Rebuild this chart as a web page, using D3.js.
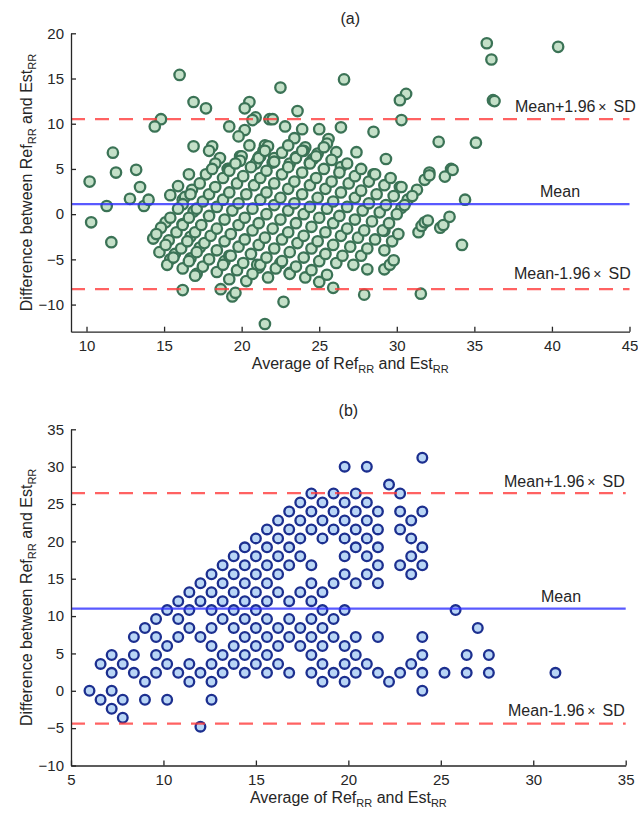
<!DOCTYPE html>
<html>
<head>
<meta charset="utf-8">
<script src="https://cdn.jsdelivr.net/npm/d3@7"></script>
<style>
body { margin: 0; background: #fff; }
text { font-family: "Liberation Sans", Arial, sans-serif; fill: #262626; }
</style>
</head>
<body>
<script>
// panel (a): [average, difference], outer / isolated points
var ptsA = [
  [16.0,15.4],[16.9,12.4],[17.7,11.7],[14.8,10.5],[14.4,9.7],
  [20.5,12.4],[20.2,11.7],[20.9,10.7],[20.7,10.4],[21.8,10.5],[19.2,9.7],[20.2,9.3],[19.8,8.6],
  [11.7,6.8],[16.9,7.5],[18.1,7.5],[17.9,7.0],[20.5,7.6],[19.9,6.4],[18.6,6.2],[18.3,5.6],[19.1,5.0],
  [21.5,7.6],[21.2,6.4],[21.0,5.9],[20.9,5.6],[11.9,4.6],[13.2,4.9],[19.2,5.0],
  [26.6,14.9],[22.5,14.0],[30.6,13.3],[30.2,12.6],[23.6,11.4],[22.0,10.5],[30.3,10.4],[22.8,9.7],
  [23.9,9.4],[23.4,8.4],[25.0,9.4],[26.4,9.6],[28.5,9.1],
  [24.1,7.4],[24.0,7.0],[25.6,8.3],[25.5,7.8],[26.1,6.85],[27.4,6.85],[29.3,6.1],
  [21.7,7.5],[21.4,7.0],[21.1,6.3],[22.1,6.2],[22.0,5.7],[23.5,6.3],[23.1,5.6],[24.9,6.7],
  [24.6,6.1],[24.4,5.7],[26.4,5.2],[20.0,6.4],[19.9,5.9],
  [35.8,18.9],[36.1,17.1],[40.4,18.5],[36.2,12.6],[36.3,12.5],[32.7,8.0],[35.1,7.9],[33.5,5.0],[32.1,4.6],
  [30.2,3.0],[31.3,2.7],[30.7,1.6],[30.3,0.7],[31.8,3.8],[32.1,4.3],[33.1,4.15],[33.6,4.9],[34.4,1.6],
  [31.4,-2.0],[31.6,-1.3],[31.8,-0.9],[32.0,-0.7],[32.8,-1.5],[33.0,-1.2],[33.4,-0.3],[34.2,-3.4],[31.55,-8.8],
  [10.2,3.6],[10.3,-0.9],[11.3,0.9],[11.6,-3.1],[13.45,3.0],[12.8,1.7],[13.7,0.9],[14.0,1.6],
  [15.1,-0.9],[14.8,-1.5],[14.3,-2.7],[15.3,-2.9],[15.7,-4.4],[15.4,-5.0],
  [15.4,2.1],[15.9,3.1],[16.2,1.6],[16.35,1.9],[16.2,1.1],[16.6,4.4],[16.2,-1.1],[16.2,-8.4],
  [17.1,-6.6],[16.7,-4.9],[16.8,2.7],[16.9,0.3],[16.7,-2.5],[17.3,-3.7],[17.7,4.4],
  [18.65,-8.3],[19.4,-9.1],[19.6,-8.7],[20.3,-7.4],[21.1,-5.9],[21.0,-5.6],[21.5,-12.15],[18.9,-5.2],[19.2,-4.6],
  [22.7,-9.7],[25.9,-8.15],[27.9,-8.9],[25.0,-7.5],[24.1,-7.0],[23.1,-6.5],[22.5,-5.4],[25.5,-6.7],
  [28.1,-6.1],[29.2,-6.1],[29.55,-5.6],[29.8,-5.1],[28.5,4.4],[29.2,-1.85]
];
// panel (a): the packed diagonal chains in the middle
var chainsA = [
  [14.5,-2.2],[15.4,-0.4],[15.9,0.6],[16.7,2.2],[17.3,3.4],[18.1,5.0],
  [14.7,-4.2],[15.1,-3.4],[15.8,-2.0],[16.2,-1.2],[16.6,-0.4],[17.1,0.6],[17.5,1.4],[17.9,2.2],[18.3,3.0],[18.8,4.0],[19.2,4.8],[19.6,5.6],
  [15.2,-5.6],[15.6,-4.8],[16.1,-3.8],[16.5,-3.0],[17.0,-2.0],[17.4,-1.2],[17.9,-0.2],[18.4,0.8],[18.8,1.6],[19.2,2.4],[19.7,3.4],[20.1,4.2],[20.6,5.2],[21.1,6.2],[21.5,7.0],
  [16.2,-6.0],[16.6,-5.2],[17.1,-4.2],[17.6,-3.2],[18.0,-2.4],[18.4,-1.6],[18.9,-0.6],[19.4,0.4],[19.8,1.2],[20.3,2.2],[20.8,3.2],[21.2,4.0],[21.6,4.8],[22.1,5.8],[22.6,6.8],[23.0,7.6],
  [17.0,-6.8],[17.5,-5.8],[17.9,-5.0],[18.4,-4.0],[18.9,-3.0],[19.3,-2.2],[19.8,-1.2],[20.2,-0.4],[20.7,0.6],[21.2,1.6],[21.6,2.4],[22.1,3.4],[22.6,4.4],[23.0,5.2],[23.5,6.2],[23.9,7.0],
  [18.4,-6.4],[18.8,-5.6],[19.3,-4.6],[19.8,-3.6],[20.2,-2.8],[20.7,-1.8],[21.1,-1.0],[21.6,0],[22.1,1.0],[22.5,1.8],[23.0,2.8],[23.4,3.6],[23.9,4.6],[24.4,5.6],[24.8,6.4],[25.3,7.4],
  [19.2,-7.2],[19.7,-6.2],[20.1,-5.4],[20.6,-4.4],[21.1,-3.4],[21.5,-2.6],[22.0,-1.6],[22.5,-0.6],[23.0,0.4],[23.4,1.2],[23.9,2.2],[24.4,3.2],[24.8,4.0],[25.3,5.0],[25.8,6.0],
  [20.7,-6.6],[21.2,-5.6],[21.6,-4.8],[22.1,-3.8],[22.6,-2.8],[23.0,-2.0],[23.5,-1.0],[24.0,0],[24.4,0.8],[24.9,1.8],[25.4,2.8],[25.8,3.6],[26.3,4.6],[26.8,5.6],
  [21.7,-7.0],[22.2,-6.0],[22.6,-5.2],[23.1,-4.2],[23.6,-3.2],[24.0,-2.4],[24.5,-1.4],[25.0,-0.4],[25.5,0.6],[25.9,1.4],[26.4,2.4],[26.9,3.4],[27.3,4.2],[27.7,5.0],
  [23.1,-6.6],[23.5,-5.8],[24.0,-4.8],[24.5,-3.8],[24.9,-3.0],[25.4,-2.0],[25.9,-1.0],[26.3,-0.2],[26.8,0.8],[27.3,1.8],[27.7,2.6],[28.2,3.6],[28.6,4.4],
  [24.5,-6.2],[25.0,-5.2],[25.4,-4.4],[25.9,-3.4],[26.4,-2.4],[26.8,-1.6],[27.3,-0.6],[27.8,0.4],[28.2,1.2],[28.7,2.2],[29.2,3.2],[29.6,4.0],
  [26.1,-5.4],[26.5,-4.6],[27.0,-3.6],[27.5,-2.6],[27.9,-1.8],[28.4,-0.8],[28.9,0.2],[29.3,1.0],[29.8,2.0],[30.3,3.0],
  [27.2,-5.6],[27.7,-4.6],[28.1,-3.8],[28.6,-2.8],[29.1,-1.8],[29.5,-1.0],[30.0,0],[30.5,1.0],[31.0,2.0],
  [29.2,-4.0],[29.7,-3.0],[30.1,-2.2]
];
var linesA = { mean: 1.1, upper: 10.5, lower: -8.3 };
var xTicksA = [10, 15, 20, 25, 30, 35, 40, 45];
var yTicksA = [-10, -5, 0, 5, 10, 15, 20];

// panel (b): [average, difference]
var ptsB = [
  [6.0,0],
  [6.6,-1.2],[6.6,3.6],
  [7.2,-2.4],[7.2,0],[7.2,2.4],[7.2,4.8],
  [7.8,-3.6],[7.8,-1.2],[7.8,3.6],
  [8.4,2.4],[8.4,4.8],[8.4,7.2],
  [9.0,-1.2],[9.0,1.2],[9.0,8.4],
  [9.6,2.4],[9.6,4.8],[9.6,7.2],[9.6,9.6],
  [10.2,-1.2],[10.2,3.6],[10.2,6.0],[10.2,10.8],
  [10.8,2.4],[10.8,7.2],[10.8,9.6],[10.8,12.0],
  [11.4,1.2],[11.4,3.6],[11.4,8.4],[11.4,10.8],[11.4,13.2],
  [12.0,-4.8],[12.0,2.4],[12.0,7.2],[12.0,12.0],[12.0,14.4],
  [12.6,-1.2],[12.6,1.2],[12.6,3.6],[12.6,6.0],[12.6,8.4],[12.6,10.8],[12.6,13.2],[12.6,15.6],
  [13.2,2.4],[13.2,4.8],[13.2,9.6],[13.2,12.0],[13.2,14.4],[13.2,16.8],
  [13.8,3.6],[13.8,6.0],[13.8,8.4],[13.8,10.8],[13.8,13.2],[13.8,15.6],[13.8,18.0],
  [14.4,2.4],[14.4,4.8],[14.4,7.2],[14.4,9.6],[14.4,12.0],[14.4,14.4],[14.4,16.8],[14.4,19.2],
  [15.0,3.6],[15.0,6.0],[15.0,8.4],[15.0,10.8],[15.0,13.2],[15.0,15.6],[15.0,18.0],[15.0,20.4],
  [15.6,2.4],[15.6,4.8],[15.6,7.2],[15.6,9.6],[15.6,12.0],[15.6,14.4],[15.6,16.8],[15.6,19.2],[15.6,21.6],
  [16.2,3.6],[16.2,6.0],[16.2,8.4],[16.2,13.2],[16.2,15.6],[16.2,18.0],[16.2,20.4],[16.2,22.8],
  [16.8,2.4],[16.8,7.2],[16.8,9.6],[16.8,12.0],[16.8,16.8],[16.8,19.2],[16.8,21.6],[16.8,24.0],
  [17.4,6.0],[17.4,8.4],[17.4,13.2],[17.4,18.0],[17.4,20.4],[17.4,22.8],[17.4,25.2],
  [18.0,2.4],[18.0,4.8],[18.0,7.2],[18.0,9.6],[18.0,12.0],[18.0,14.4],[18.0,16.8],[18.0,21.6],[18.0,24.0],[18.0,26.4],
  [18.6,1.2],[18.6,3.6],[18.6,6.0],[18.6,8.4],[18.6,10.8],[18.6,13.2],[18.6,20.4],[18.6,22.8],[18.6,25.2],
  [19.2,2.4],[19.2,7.2],[19.2,9.6],[19.2,14.4],[19.2,21.6],[19.2,24.0],[19.2,26.4],
  [19.8,1.2],[19.8,3.6],[19.8,6.0],[19.8,10.8],[19.8,15.6],[19.8,18.0],[19.8,20.4],[19.8,22.8],[19.8,25.2],[19.8,30.0],
  [20.4,2.4],[20.4,4.8],[20.4,7.2],[20.4,14.4],[20.4,19.2],[20.4,21.6],[20.4,24.0],[20.4,26.4],
  [21.0,3.6],[21.0,15.6],[21.0,18.0],[21.0,20.4],[21.0,22.8],[21.0,25.2],[21.0,30.0],
  [21.6,2.4],[21.6,7.2],[21.6,14.4],[21.6,16.8],[21.6,19.2],[21.6,21.6],[21.6,24.0],
  [22.2,1.2],[22.2,27.6],
  [22.8,2.4],[22.8,16.8],[22.8,21.6],[22.8,24.0],[22.8,26.4],
  [23.4,3.6],[23.4,15.6],[23.4,18.0],[23.4,20.4],[23.4,22.8],
  [24.0,0],[24.0,2.4],[24.0,4.8],[24.0,7.2],[24.0,16.8],[24.0,19.2],[24.0,24.0],[24.0,31.2],
  [25.2,2.4],[25.8,10.8],[26.4,2.4],[26.4,4.8],[27.0,8.4],[27.6,2.4],[27.6,4.8],[31.2,2.4]
];
var linesB = { mean: 11.0, upper: 26.45, lower: -4.4 };
var xTicksB = [5, 10, 15, 20, 25, 30, 35];
var yTicksB = [-10, -5, 0, 5, 10, 15, 20, 25, 30, 35];

var svg = d3.select("body").append("svg")
    .attr("width", 638)
    .attr("height", 823);

function subLabel(sel, parts) {
  // parts: alternating normal / subscript strings
  parts.forEach(function(p, i) {
    sel.append("tspan")
      .attr("font-size", i % 2 ? 11 : 16)
      .attr("dy", i === 0 ? 0 : (i % 2 ? 4 : -4))
      .text(p);
  });
}

function drawPanel(o) {
  var x = d3.scaleLinear().domain(o.xDomain).range([o.left, o.right]);
  var y = d3.scaleLinear().domain(o.yDomain).range([o.bottom, o.top]);
  var g = svg.append("g");

  g.selectAll("circle")
    .data(o.pts)
    .enter()
    .append("circle")
    .attr("cx", function(d) { return x(d[0]); })
    .attr("cy", function(d) { return y(d[1]); })
    .attr("r", o.r)
    .attr("fill", o.fill)
    .attr("stroke", o.stroke)
    .attr("stroke-width", 2.3);

  // limits of agreement and mean
  [["upper", true], ["lower", true], ["mean", false]].forEach(function(l) {
    g.append("line")
      .attr("x1", o.left).attr("x2", o.right)
      .attr("y1", y(o.lines[l[0]])).attr("y2", y(o.lines[l[0]]))
      .attr("stroke", l[1] ? "#ff3b3b" : "#2f2fff")
      .attr("stroke-opacity", 0.8)
      .attr("stroke-width", 2.2)
      .attr("stroke-dasharray", l[1] ? "14,10" : null);
  });

  var ax = g.append("g")
    .attr("transform", "translate(0," + o.bottom + ")")
    .call(d3.axisBottom(x).tickValues(o.xTicks).tickSizeInner(-5).tickSizeOuter(0).tickPadding(9));
  var ay = g.append("g")
    .attr("transform", "translate(" + o.left + ",0)")
    .call(d3.axisLeft(y).tickValues(o.yTicks).tickSizeInner(-5).tickSizeOuter(0).tickPadding(7));
  [ax, ay].forEach(function(a) {
    a.attr("font-family", null).attr("font-size", 15);
    a.selectAll("path, line").attr("stroke", "#262626").attr("stroke-width", 1.3);
    a.selectAll("text").attr("fill", "#262626");
  });

  g.append("text")
    .attr("x", (o.left + o.right) / 2)
    .attr("y", o.titleY)
    .attr("text-anchor", "middle")
    .attr("font-size", 16)
    .text(o.title);

  var xl = g.append("text")
    .attr("x", (o.left + o.right) / 2)
    .attr("y", o.bottom + 37)
    .attr("text-anchor", "middle");
  subLabel(xl, ["Average of Ref", "RR", " and Est", "RR"]);

  var yl = g.append("text")
    .attr("transform", "translate(32," + ((o.top + o.bottom) / 2) + ") rotate(-90)")
    .attr("text-anchor", "middle");
  subLabel(yl, ["Difference between Ref", "RR", " and Est", "RR"]);

  o.notes.forEach(function(n) {
    var t = g.append("text")
      .attr("x", n.x)
      .attr("y", n.y)
      .attr("font-size", 16);
    t.append("tspan").text(n.pre);
    if (n.sd) {
      t.append("tspan").attr("font-size", 14).text("\u2009\u00d7\u2002");
      t.append("tspan").text("SD");
    }
  });
}

drawPanel({
  pts: ptsA.concat(chainsA), lines: linesA, xTicks: xTicksA, yTicks: yTicksA,
  xDomain: [9, 45], yDomain: [-13, 20],
  left: 71, right: 629.5, top: 33.3, bottom: 331.7,
  r: 5.2, fill: "#c4e0c8", stroke: "#3b7356",
  title: "(a)", titleY: 24,
  notes: [
    { x: 515, y: 112, pre: "Mean+1.96", sd: true },
    { x: 540, y: 197, pre: "Mean" },
    { x: 514, y: 279, pre: "Mean-1.96", sd: true }
  ]
});

drawPanel({
  pts: ptsB, lines: linesB, xTicks: xTicksB, yTicks: yTicksB,
  xDomain: [5, 35], yDomain: [-10, 35],
  left: 71, right: 625.7, top: 429.3, bottom: 765.5,
  r: 4.85, fill: "#b9d6f6", stroke: "#1c2f8f",
  title: "(b)", titleY: 416,
  notes: [
    { x: 504, y: 487, pre: "Mean+1.96", sd: true },
    { x: 541, y: 602, pre: "Mean" },
    { x: 508, y: 716, pre: "Mean-1.96", sd: true }
  ]
});
</script>
</body>
</html>
